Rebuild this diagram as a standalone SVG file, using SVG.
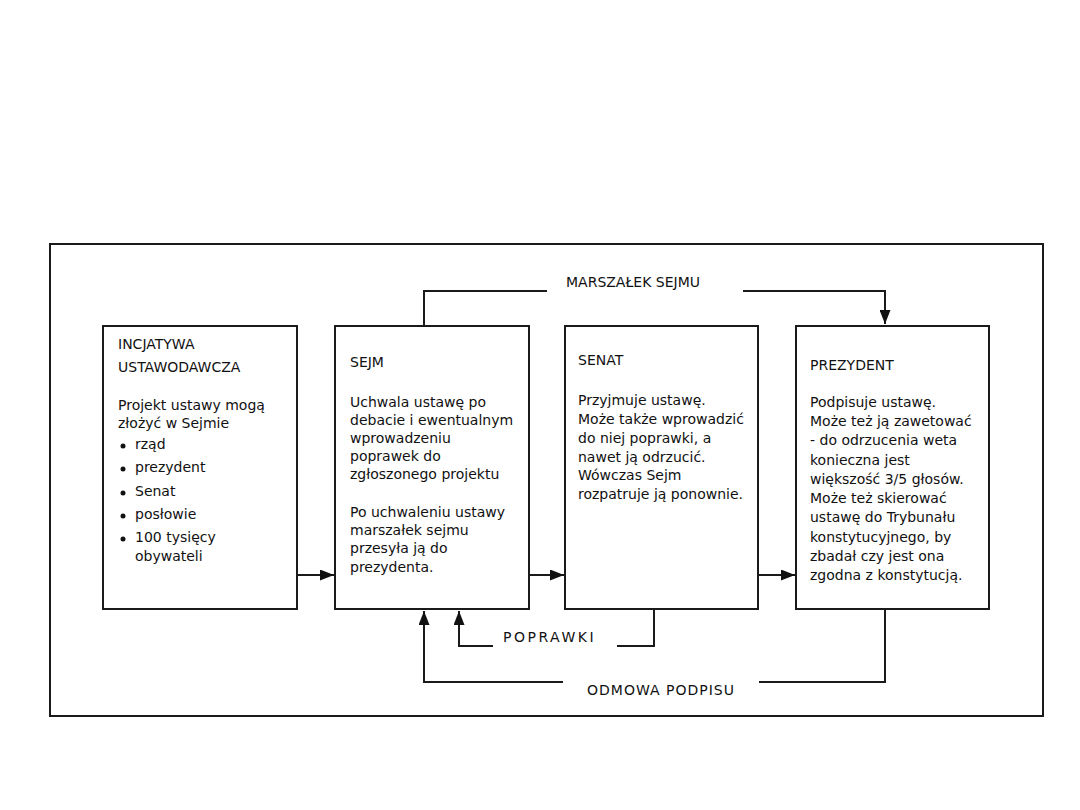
<svg xmlns="http://www.w3.org/2000/svg" width="1080" height="810" viewBox="0 0 1080 810">
<defs>
<style>
text{font-family:"DejaVu Sans","Liberation Sans",sans-serif;font-size:14px;fill:#111}
.box{fill:#fff;stroke:#1a1a1a;stroke-width:2}
.ln{fill:none;stroke:#1a1a1a;stroke-width:2}
.lbl{letter-spacing:1px}
</style>
<marker id="ah" viewBox="0 0 14 11" refX="14" refY="5.5" markerWidth="14" markerHeight="11" markerUnits="userSpaceOnUse" orient="auto">
<path d="M0,0 L14,5.5 L0,11 z" fill="#111"/>
</marker>
</defs>
<rect width="1080" height="810" fill="#fff"/>
<rect x="50" y="244" width="993" height="472" fill="none" stroke="#1a1a1a" stroke-width="2"/>

<g id="connectors">
<path class="ln" d="M297,575 L334,575" marker-end="url(#ah)"/>
<path class="ln" d="M529,575 L564,575" marker-end="url(#ah)"/>
<path class="ln" d="M758,575 L795,575" marker-end="url(#ah)"/>
<path class="ln" d="M424,326 L424,291 L547,291"/>
<path class="ln" d="M743,291 L885,291 L885,324" marker-end="url(#ah)"/>
<path class="ln" d="M654,609 L654,646 L617,646"/>
<path class="ln" d="M493,646 L459,646 L459,611" marker-end="url(#ah)"/>
<path class="ln" d="M885,609 L885,682 L759,682"/>
<path class="ln" d="M563,682 L424,682 L424,611" marker-end="url(#ah)"/>
<text x="566" y="287">MARSZAŁEK SEJMU</text>
<text x="503" y="642" style="letter-spacing:2.5px">POPRAWKI</text>
<text x="587" y="695" class="lbl">ODMOWA PODPISU</text>
</g>

<g id="inicjatywa">
<rect class="box" x="103" y="326" width="194" height="283"/>
<text x="118" y="349">INCJATYWA</text>
<text x="118" y="372">USTAWODAWCZA</text>
<text x="118" y="410">Projekt ustawy mogą</text>
<text x="118" y="428">złożyć w Sejmie</text>
<circle cx="123" cy="446" r="2.5" fill="#111"/><text x="135" y="449">rząd</text>
<circle cx="123" cy="469" r="2.5" fill="#111"/><text x="135" y="472">prezydent</text>
<circle cx="123" cy="493" r="2.5" fill="#111"/><text x="135" y="496">Senat</text>
<circle cx="123" cy="516" r="2.5" fill="#111"/><text x="135" y="519">posłowie</text>
<circle cx="123" cy="539" r="2.5" fill="#111"/><text x="135" y="542">100 tysięcy</text>
<text x="135" y="561">obywateli</text>
</g>

<g id="sejm">
<rect class="box" x="335" y="326" width="194" height="283"/>
<text x="350" y="367">SEJM</text>
<text x="350" y="407">Uchwala ustawę po</text>
<text x="350" y="425">debacie i ewentualnym</text>
<text x="350" y="443">wprowadzeniu</text>
<text x="350" y="461">poprawek do</text>
<text x="350" y="479">zgłoszonego projektu</text>
<text x="350" y="517">Po uchwaleniu ustawy</text>
<text x="350" y="535">marszałek sejmu</text>
<text x="350" y="553">przesyła ją do</text>
<text x="350" y="572">prezydenta.</text>
</g>

<g id="senat">
<rect class="box" x="565" y="326" width="193" height="283"/>
<text x="578" y="365">SENAT</text>
<text x="578" y="405">Przyjmuje ustawę.</text>
<text x="578" y="424">Może także wprowadzić</text>
<text x="578" y="443">do niej poprawki, a</text>
<text x="578" y="462">nawet ją odrzucić.</text>
<text x="578" y="480">Wówczas Sejm</text>
<text x="578" y="499">rozpatruje ją ponownie.</text>
</g>

<g id="prezydent">
<rect class="box" x="796" y="326" width="193" height="283"/>
<text x="810" y="370">PREZYDENT</text>
<text x="810" y="407">Podpisuje ustawę.</text>
<text x="810" y="426">Może też ją zawetować</text>
<text x="810" y="445">- do odrzucenia weta</text>
<text x="810" y="465">konieczna jest</text>
<text x="810" y="484">większość 3/5 głosów.</text>
<text x="810" y="503">Może też skierować</text>
<text x="810" y="522">ustawę do Trybunału</text>
<text x="810" y="542">konstytucyjnego, by</text>
<text x="810" y="561">zbadał czy jest ona</text>
<text x="810" y="580">zgodna z konstytucją.</text>
</g>
</svg>
